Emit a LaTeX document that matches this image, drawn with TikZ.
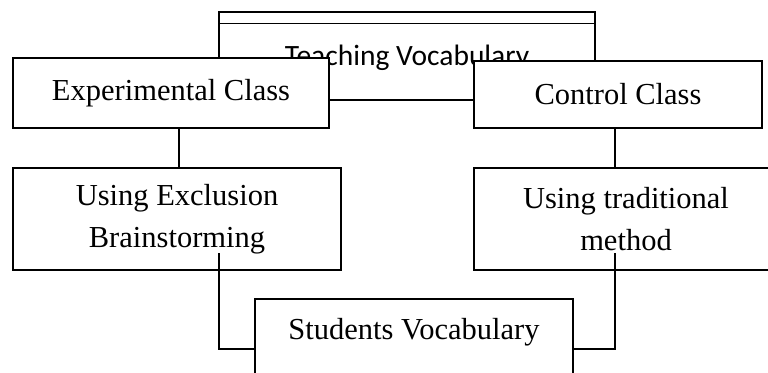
\documentclass[tikz,border=0pt]{standalone}
\usepackage{fontspec}
\setmainfont{Liberation Serif}
\newfontfamily\calibri{Carlito}
\usepackage{tikz}
\usetikzlibrary{positioning, calc}
\tikzset{
  cbox/.style={draw, fill=white, line width=1.5pt, align=center, inner sep=0pt, font=\fontsize{30.5}{42}\selectfont},
  ctext/.style={inner sep=0pt, anchor=base, font=\fontsize{30.5}{42}\selectfont},
  tbox/.style={draw, line width=1.5pt, inner sep=0pt},
  link/.style={line width=1.5pt},
}

\begin{document}
\begin{tikzpicture}[x=1pt, y=-1pt]
\clip (0,0) rectangle (768,372);
% top box sits behind the two class boxes
\node[tbox, minimum width=376, minimum height=88] (teach) at (407,56) {};
\draw[link] ([yshift=-12pt]teach.north west) -- ([yshift=-12pt]teach.north east);
\node[ctext, font=\calibri\fontsize{29.5}{36}\selectfont] (teachtxt) at (407,65) {Teaching Vocabulary};
\node[cbox, minimum width=316, minimum height=70] (exp) at (171,93) {Experimental Class};
\node[cbox, minimum width=288, minimum height=67] (ctrl) at (618,94.5) {Control Class};
\node[cbox, minimum width=328, minimum height=102] (excl) at (177,219) {Using Exclusion\\Brainstorming};
\node[cbox, minimum width=304, minimum height=102] (trad) at (626,219) {Using traditional\\method};
\node[cbox, minimum width=318, minimum height=100, anchor=north] (stud) at (414,298) {};
\node[ctext] (studtxt) at (414,339) {Students Vocabulary};
\coordinate (lfoot) at (219,253);
\coordinate (rfoot) at (615,253);
\draw[link] ([xshift=2pt]exp.south -| excl.north) -- ([xshift=2pt]excl.north);
\draw[link] ([xshift=-3pt]ctrl.south) -- ([xshift=-3pt]ctrl.south |- trad.north);
\draw[link] (lfoot) |- (stud.west);
\draw[link] (rfoot) |- (stud.east);
\end{tikzpicture}
\end{document}
